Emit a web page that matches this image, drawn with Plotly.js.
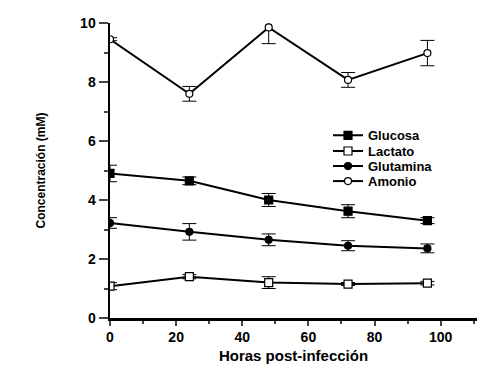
<!DOCTYPE html>
<html><head><meta charset="utf-8">
<script src="https://cdn.plot.ly/plotly-3.0.1.min.js"></script>
<style>html,body{margin:0;padding:0;background:#fff}#c{width:500px;height:375px}</style>
</head><body><div id="c"></div>
<script>
const hours = [0, 24, 48, 72, 96];
const glucosa = [4.9, 4.65, 4.0, 3.62, 3.3];
const glucosaErr = [0.28, 0.13, 0.22, 0.22, 0.1];
const lactato = [1.08, 1.4, 1.2, 1.15, 1.18];
const lactatoErr = [0.12, 0.07, 0.2, 0.05, 0.06];
const glutamina = [3.22, 2.92, 2.65, 2.45, 2.36];
const glutaminaErr = [0.18, 0.28, 0.2, 0.17, 0.15];
const amonio = [9.45, 7.6, 9.85, 8.07, 8.98];
const amonioErr = [0.05, 0.25, 0.55, 0.25, 0.43];
const names = ['Glucosa', 'Lactato', 'Glutamina', 'Amonio'];

const F = 'Liberation Sans, Arial, sans-serif';
function tr(name, y, err, symbol, fill, leg) {
  return {
    x: hours, y: y, name: name, type: 'scatter', mode: 'lines+markers',
    line: {color: '#000', width: 2},
    marker: {symbol: symbol, size: symbol === 'square' ? 8 : 7, color: fill, line: {color: '#000', width: 1.2}},
    error_y: {type: 'data', array: err, visible: true, color: '#000', thickness: 1, width: 7},
    legend: leg
  };
}
const data = [
  tr(names[0], glucosa, glucosaErr, 'square', '#000', 'legend'),
  tr(names[1], lactato, lactatoErr, 'square', '#fff', 'legend2'),
  tr(names[2], glutamina, glutaminaErr, 'circle', '#000', 'legend3'),
  tr(names[3], amonio, amonioErr, 'circle', '#fff', 'legend4')
];
function leg(y) {
  return {x: 0.594, y: y, xanchor: 'left', yanchor: 'middle', bgcolor: 'rgba(0,0,0,0)',
    font: {family: F, size: 13, color: '#000', weight: 'bold'}, itemwidth: 30};
}
const layout = {
  width: 500, height: 375,
  margin: {l: 110, r: 23, t: 23, b: 57},
  paper_bgcolor: '#fff', plot_bgcolor: '#fff',
  font: {family: F, color: '#000'},
  xaxis: {
    range: [0, 111], tickvals: [0, 20, 40, 60, 80, 100], ticks: 'outside', ticklen: 5, tickwidth: 2,
    showline: true, linecolor: '#000', linewidth: 2.5, showgrid: false, zeroline: false,
    tickfont: {family: F, size: 14, weight: 'bold'},
    minor: {dtick: 10, tick0: 0, ticks: 'outside', ticklen: 3, tickwidth: 2, showgrid: false},
    title: {text: 'Horas post-infección', font: {family: F, size: 15, weight: 'bold'}, standoff: 6}
  },
  yaxis: {
    range: [0, 10], tickvals: [0, 2, 4, 6, 8, 10], ticks: 'outside', ticklen: 9, tickwidth: 2,
    showline: true, linecolor: '#000', linewidth: 2.5, showgrid: false, zeroline: false,
    tickfont: {family: F, size: 14, weight: 'bold'},
    minor: {dtick: 1, tick0: 0, ticks: 'outside', ticklen: 4, tickwidth: 2, showgrid: false},
    title: {text: 'Concentración (mM)', font: {family: F, size: 12, weight: 'bold'}, standoff: 32}
  },
  showlegend: true,
  legend: leg(0.619), legend2: leg(0.566), legend3: leg(0.515), legend4: leg(0.464)
};
Plotly.newPlot('c', data, layout, {displayModeBar: false, staticPlot: true});
</script></body></html>
